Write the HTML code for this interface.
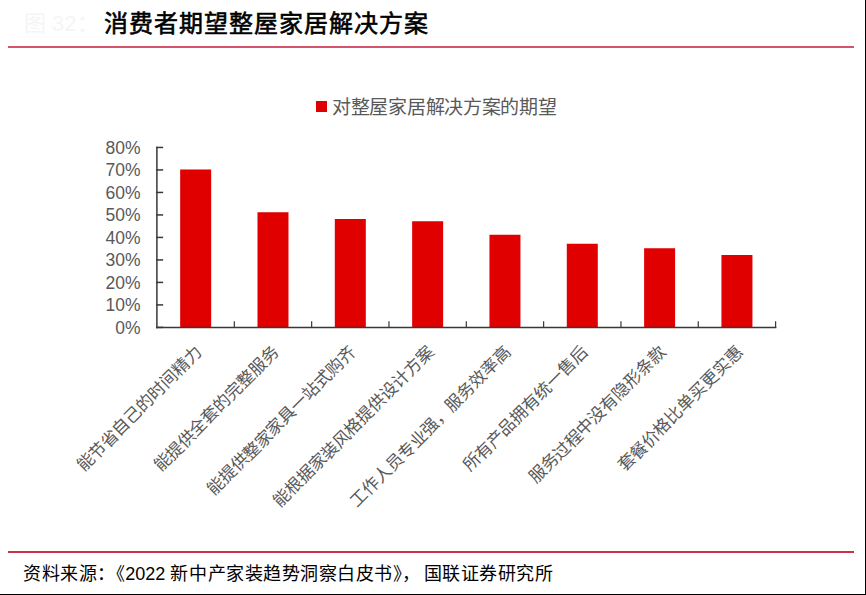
<!DOCTYPE html>
<html lang="zh-CN"><head><meta charset="utf-8"><style>
html,body{margin:0;padding:0;background:#fff;}
body{width:866px;height:595px;position:relative;overflow:hidden;font-family:"Liberation Sans",sans-serif;}
.abs{position:absolute;}
#fig{position:absolute;left:24px;top:9px;font-family:"Liberation Sans",sans-serif;font-weight:normal;font-size:22px;color:#f5f5f5;white-space:nowrap;line-height:30px;}
#title{position:absolute;left:104px;top:9px;font-family:"Liberation Serif",serif;font-weight:400;-webkit-text-stroke:0.6px #000;font-size:24px;letter-spacing:1.0px;color:#000;white-space:nowrap;line-height:30px;}
.rl{position:absolute;left:8px;width:846px;height:2px;}
#foot{position:absolute;left:23px;top:562px;font-family:"Liberation Serif",serif;font-size:18px;letter-spacing:0.55px;color:#000;white-space:nowrap;line-height:24px;text-spacing-trim:space-all;}
#foot .q{margin-left:-9px;}
#foot .n{font-family:"Liberation Sans",sans-serif;letter-spacing:0;}
#leg{position:absolute;left:316px;top:96px;white-space:nowrap;font-size:19px;letter-spacing:-0.3px;color:#595959;line-height:24px;}
#leg i{position:absolute;left:0;top:5px;width:11px;height:11px;background:#e00000;}
#leg span{margin-left:16px;}
.yl{position:absolute;left:60px;width:80.5px;text-align:right;font-size:17.5px;color:#595959;line-height:20px;}
.xl{position:absolute;width:400px;text-align:right;font-size:17px;letter-spacing:-0.2px;color:#595959;line-height:20px;white-space:nowrap;transform-origin:100% 0;transform:rotate(-45deg);}
</style></head><body>
<div >
<div id="fig">图 32：</div>
<div id="title">消费者期望整屋家居解决方案</div>
<div class="rl" style="top:46px;background:#d5536d"></div>
<div class="rl" style="top:551px;background:#c93049"></div>
<div style="position:absolute;left:865px;top:0;width:1px;height:595px;background:#000"></div>
<div style="position:absolute;left:0;top:594px;width:866px;height:1px;background:#000"></div>
<div id="leg"><i></i><span>对整屋家居解决方案的期望</span></div>
<svg class="abs" style="left:0;top:0" width="866" height="595" viewBox="0 0 866 595">
<rect x="180.16" y="169.50" width="31" height="157.90" fill="#e00000"/><rect x="257.49" y="212.25" width="31" height="115.15" fill="#e00000"/><rect x="334.81" y="219.00" width="31" height="108.40" fill="#e00000"/><rect x="412.14" y="221.25" width="31" height="106.15" fill="#e00000"/><rect x="489.46" y="234.75" width="31" height="92.65" fill="#e00000"/><rect x="566.79" y="243.75" width="31" height="83.65" fill="#e00000"/><rect x="644.11" y="248.25" width="31" height="79.15" fill="#e00000"/><rect x="721.44" y="255.00" width="31" height="72.40" fill="#e00000"/>
<g stroke="#383838" stroke-width="1.5" fill="none" stroke-linecap="square">
<line x1="156.9" y1="147.45" x2="156.9" y2="327.4"/>
<line x1="156.9" y1="327.4" x2="775.6" y2="327.4"/>
<line x1="156.9" y1="327.40" x2="162.4" y2="327.40"/><line x1="156.9" y1="304.91" x2="162.4" y2="304.91"/><line x1="156.9" y1="282.41" x2="162.4" y2="282.41"/><line x1="156.9" y1="259.92" x2="162.4" y2="259.92"/><line x1="156.9" y1="237.42" x2="162.4" y2="237.42"/><line x1="156.9" y1="214.93" x2="162.4" y2="214.93"/><line x1="156.9" y1="192.44" x2="162.4" y2="192.44"/><line x1="156.9" y1="169.94" x2="162.4" y2="169.94"/><line x1="156.9" y1="147.45" x2="162.4" y2="147.45"/>
<line x1="234.32" y1="321.9" x2="234.32" y2="327.4" stroke-width="1.2"/><line x1="311.65" y1="321.9" x2="311.65" y2="327.4" stroke-width="1.2"/><line x1="388.98" y1="321.9" x2="388.98" y2="327.4" stroke-width="1.2"/><line x1="466.30" y1="321.9" x2="466.30" y2="327.4" stroke-width="1.2"/><line x1="543.62" y1="321.9" x2="543.62" y2="327.4" stroke-width="1.2"/><line x1="620.95" y1="321.9" x2="620.95" y2="327.4" stroke-width="1.2"/><line x1="698.27" y1="321.9" x2="698.27" y2="327.4" stroke-width="1.2"/><line x1="775.60" y1="321.9" x2="775.60" y2="327.4" stroke-width="1.2"/>
</g>
</svg>
<div class="yl" style="top:317.50px">0%</div><div class="yl" style="top:295.00px">10%</div><div class="yl" style="top:272.50px">20%</div><div class="yl" style="top:250.00px">30%</div><div class="yl" style="top:227.50px">40%</div><div class="yl" style="top:205.00px">50%</div><div class="yl" style="top:182.50px">60%</div><div class="yl" style="top:160.00px">70%</div><div class="yl" style="top:137.50px">80%</div>
<div id="foot">资料来源：<span class="q">《</span><span class="n">2022</span> 新中产家装趋势洞察白皮书<span style="margin-right:-9.5px">》</span><span style="margin-right:3px">，</span>国联证券研究所</div>
</div>
<div class="xl" style="left:-208.34px;top:343.4px">能节省自己的时间精力</div><div class="xl" style="left:-131.01px;top:343.4px">能提供全套的完整服务</div><div class="xl" style="left:-53.69px;top:343.4px">能提供整家家具一站式购齐</div><div class="xl" style="left:23.64px;top:343.4px">能根据家装风格提供设计方案</div><div class="xl" style="left:100.96px;top:343.4px">工作人员专业强，服务效率高</div><div class="xl" style="left:178.29px;top:343.4px">所有产品拥有统一售后</div><div class="xl" style="left:255.61px;top:343.4px">服务过程中没有隐形条款</div><div class="xl" style="left:332.94px;top:343.4px">套餐价格比单买更实惠</div>
</body></html>
